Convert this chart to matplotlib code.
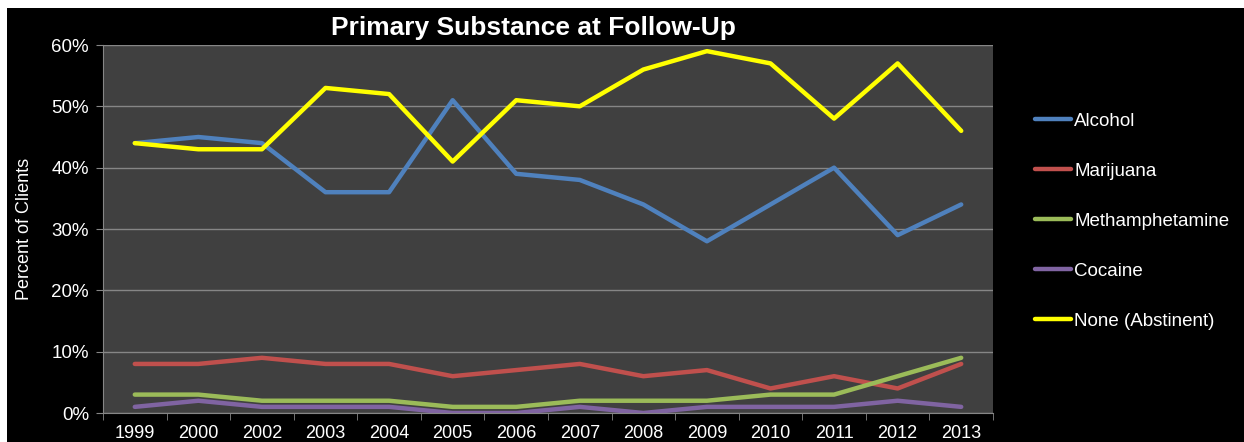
import numpy as np
import matplotlib.pyplot as plt
from matplotlib.patches import Rectangle
from matplotlib.ticker import PercentFormatter

plt.rcParams['font.family'] = ['Liberation Sans', 'DejaVu Sans']

# Data
years = ["1999", "2000", "2002", "2003", "2004", "2005", "2006",
         "2007", "2008", "2009", "2010", "2011", "2012", "2013"]
alcohol = [44, 45, 44, 36, 36, 51, 39, 38, 34, 28, 34, 40, 29, 34]
marijuana = [8, 8, 9, 8, 8, 6, 7, 8, 6, 7, 4, 6, 4, 8]
meth = [3, 3, 2, 2, 2, 1, 1, 2, 2, 2, 3, 3, 6, 9]
cocaine = [1, 2, 1, 1, 1, 0, 0, 1, 0, 1, 1, 1, 2, 1]
abstinent = [44, 43, 43, 53, 52, 41, 51, 50, 56, 59, 57, 48, 57, 46]

series = [
    ("Alcohol", alcohol, "#4F81BD"),
    ("Marijuana", marijuana, "#C0504D"),
    ("Methamphetamine", meth, "#9BBB59"),
    ("Cocaine", cocaine, "#8064A2"),
    ("None (Abstinent)", abstinent, "#FFFF00"),
]

fig = plt.figure(figsize=(12.44, 4.42), dpi=100)
fig.patch.set_facecolor("white")
# black slide background (thin white strip at top/left as in the original)
fig.add_artist(Rectangle((7 / 1244, 0), 1, 1 - 8 / 442, transform=fig.transFigure,
                         facecolor="black", edgecolor="none", zorder=-10))

ax = fig.add_axes([103 / 1244, 1 - 413 / 442, 890 / 1244, 368 / 442])
ax.set_facecolor("#404040")

x = np.arange(len(years))
for name, vals, col in series:
    ax.plot(x, vals, color=col, lw=3.2, label=name, solid_capstyle="round")

ax.set_xlim(-0.5, len(years) - 0.5)
ax.set_ylim(0, 60)
ax.set_yticks(np.arange(0, 61, 10))
ax.yaxis.set_major_formatter(PercentFormatter(decimals=0))
ax.set_xticks(x)
ax.set_xticklabels(years)
ax.set_xticks(np.arange(-0.5, len(years), 1), minor=True)
ax.tick_params(axis="x", which="major", length=0, colors="white", labelsize=13, pad=9)
ax.tick_params(axis="x", which="minor", length=5, color="#868686")
ax.tick_params(axis="y", length=5, color="#868686", labelcolor="white", labelsize=13.5, pad=5)

ax.grid(axis="y", color="#868686", lw=1)
ax.set_axisbelow(True)
for s in ["top", "right"]:
    ax.spines[s].set_visible(False)
for s in ["left", "bottom"]:
    ax.spines[s].set_color("#868686")

ax.set_ylabel("Percent of Clients", color="white", fontsize=13, labelpad=13)
fig.text(0.429, 1 - 28 / 442, "Primary Substance at Follow-Up", color="white",
         fontsize=19, fontweight="bold", ha="center", va="center")

leg = fig.legend(loc="upper left", bbox_to_anchor=(1018 / 1244, 1 - 96 / 442),
                 frameon=False, fontsize=13.5, labelcolor="white",
                 labelspacing=1.75, handlelength=1.9, handletextpad=0.2)

plt.savefig("out.png", dpi=100, facecolor=fig.get_facecolor())
plt.close()
